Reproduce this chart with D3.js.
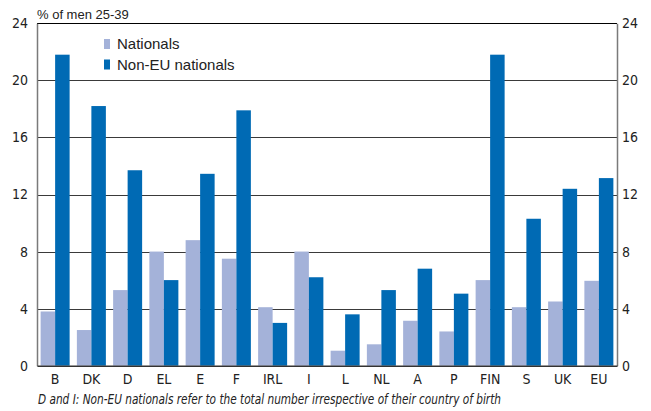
<!DOCTYPE html>
<html><head><meta charset="utf-8">
<script src="https://cdn.jsdelivr.net/npm/d3@7"></script>
<style>
body{margin:0;background:#fff;}
svg{display:block;}
.cond{font-family:"Liberation Sans Narrow","Arial Narrow","DejaVu Sans Condensed","Liberation Sans",sans-serif;font-stretch:condensed;}
.reg{font-family:"Liberation Sans",Arial,sans-serif;}
</style></head>
<body>
<script>
const categories = ["B","DK","D","EL","E","F","IRL","I","L","NL","A","P","FIN","S","UK","EU"];
const seriesNames = ["Nationals","Non-EU nationals"];
const nationals = [3.8,2.5,5.3,8.0,8.8,7.5,4.1,8.0,1.05,1.5,3.15,2.4,6.0,4.1,4.5,5.95];
const nonEU = [21.8,18.2,13.7,6.0,13.45,17.9,3.0,6.2,3.6,5.3,6.8,5.05,21.8,10.3,12.4,13.15];
const yTicks = [0,4,8,12,16,20,24];
const colors = ["#a4b2d9","#006ab4"];
const title = "% of men 25-39";
const footnote = "D and I: Non-EU nationals refer to the total number irrespective of their country of birth";

const W = 651, H = 411;
const m = {left:37, right:34, top:23.3, bottom:45.3};
const svg = d3.select("body").append("svg").attr("width",W).attr("height",H);

const x = d3.scaleBand().domain(categories).range([m.left, W-m.right]).paddingInner(0.2).paddingOuter(0.1);
const xs = d3.scaleBand().domain(seriesNames).range([0, x.bandwidth()]).padding(0);
const y = d3.scaleLinear().domain([0,24]).range([H-m.bottom, m.top]);

// gridlines
svg.append("g").selectAll("line").data(yTicks.filter(d=>d>0)).join("line")
  .attr("x1", m.left).attr("x2", W-m.right)
  .attr("y1", d=>Math.round(y(d))+0.5).attr("y2", d=>Math.round(y(d))+0.5)
  .attr("stroke", d=> d===24 ? "#000" : "#3a3a3a").attr("stroke-width",1);

// bars
const data = categories.map((c,i)=>({c, vals:[nationals[i], nonEU[i]]}));
const grp = svg.append("g").selectAll("g").data(data).join("g")
  .attr("transform", d=>`translate(${x(d.c)},0)`);
grp.selectAll("rect").data(d=>d.vals.map((v,j)=>({v, s:seriesNames[j], j}))).join("rect")
  .attr("x", d=>xs(d.s)).attr("width", xs.bandwidth())
  .attr("y", d=>y(d.v)).attr("height", d=>y(0)-y(d.v))
  .attr("fill", d=>colors[d.j]);

// axes
const left = d3.axisLeft(y).tickValues(yTicks).tickSize(0).tickPadding(9);
const right = d3.axisRight(y).tickValues(yTicks).tickSize(0).tickPadding(5);
const gl = svg.append("g").attr("transform",`translate(${m.left},0)`).call(left);
const gr = svg.append("g").attr("transform",`translate(${W-m.right},0)`).call(right);
[gl,gr].forEach(g=>{
  g.select(".domain").attr("stroke","#7a7a7a").attr("stroke-width",1.5);
  g.selectAll("text").attr("class","cond").attr("font-size",14).attr("fill","#222");
});
const bx = d3.axisBottom(x).tickSize(0).tickPadding(8);
const gb = svg.append("g").attr("transform",`translate(0,${y(0)})`).call(bx);
gb.select(".domain").attr("stroke","#333").attr("stroke-width",1.5);
gb.selectAll("text").attr("class","cond").attr("font-size",14).attr("fill","#222");

// title
svg.append("text").attr("class","reg").attr("x",37).attr("y",18.5)
  .attr("font-size",13).attr("fill","#222").text(title);

// legend
const lg = svg.append("g");
seriesNames.forEach((s,i)=>{
  lg.append("rect").attr("x",104).attr("y",39+i*20.5).attr("width",6).attr("height",10).attr("fill",colors[i]);
  lg.append("text").attr("class","reg").attr("x",117).attr("y",49+i*20.7)
    .attr("font-size",15).attr("fill","#222").text(s);
});

// footnote (condensed to the reference's width)
svg.append("text").attr("class","cond").attr("x",38).attr("y",404)
  .attr("font-size",14).attr("font-style","italic").attr("fill","#222")
  .attr("textLength",463).attr("lengthAdjust","spacingAndGlyphs").text(footnote);
</script>
</body></html>
